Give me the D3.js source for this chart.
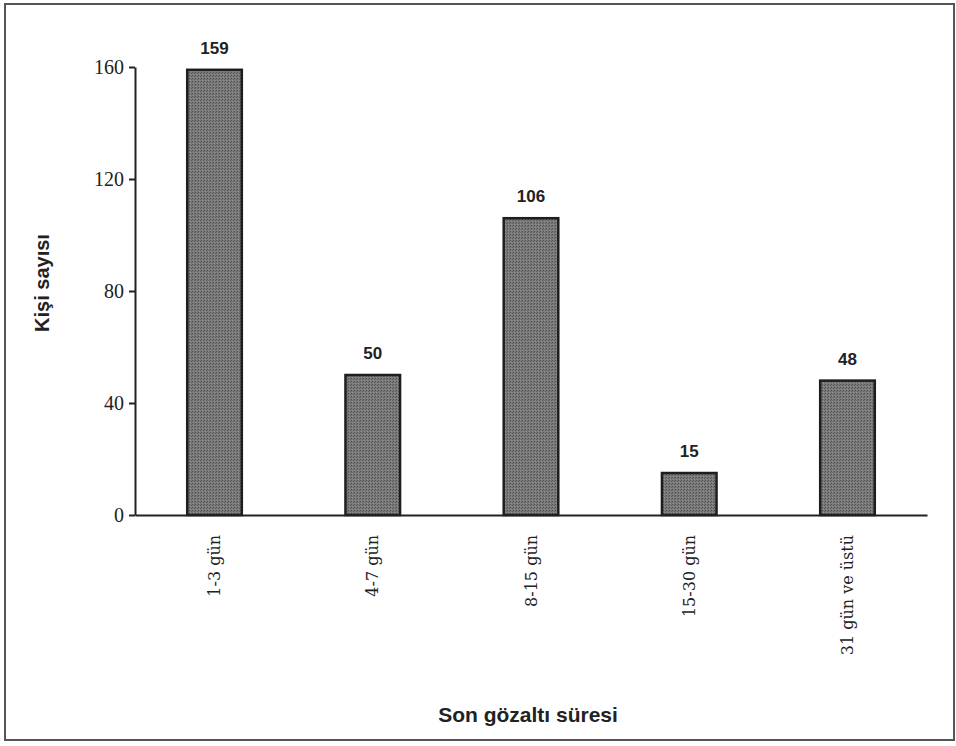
<!DOCTYPE html>
<html>
<head>
<meta charset="utf-8">
<script src="https://cdn.jsdelivr.net/npm/d3@7"></script>
<style>
  html, body { margin: 0; padding: 0; background: #fff; }
  svg { display: block; }
</style>
</head>
<body>
<svg id="chart" width="956" height="746"></svg>
<script>
// Detention duration categories and number of people in each
const categories = ["1-3 gün", "4-7 gün", "8-15 gün", "15-30 gün", "31 gün ve üstü"];
const counts = [159, 50, 106, 15, 48];
const yTicks = [0, 40, 80, 120, 160];
const yTitle = "Kişi sayısı";
const xTitle = "Son gözaltı süresi";

const svg = d3.select("#chart");
const plot = { left: 135, right: 927, top: 67, bottom: 515 };

// Outer frame
svg.append("rect")
  .attr("x", 5).attr("y", 4)
  .attr("width", 949).attr("height", 736)
  .attr("fill", "none")
  .attr("stroke", "#555")
  .attr("stroke-width", 2);

// Stippled texture for the bars
const defs = svg.append("defs");
const pat = defs.append("pattern")
  .attr("id", "stipple")
  .attr("width", 3).attr("height", 3)
  .attr("patternUnits", "userSpaceOnUse");
pat.append("rect").attr("width", 3).attr("height", 3).attr("fill", "#7a7a7a");
pat.append("rect").attr("x", 0).attr("y", 0).attr("width", 1).attr("height", 1).attr("fill", "#4e4e4e");
pat.append("rect").attr("x", 2).attr("y", 1).attr("width", 1).attr("height", 1).attr("fill", "#5e5e5e");
pat.append("rect").attr("x", 1).attr("y", 2).attr("width", 1).attr("height", 1).attr("fill", "#8e8e8e");

const x = d3.scaleBand()
  .domain(categories)
  .range([plot.left, plot.right])
  .paddingInner(0.655)
  .paddingOuter(0.33);

const y = d3.scaleLinear()
  .domain([0, 160])
  .range([plot.bottom, plot.top]);

// Y axis
const yAxis = svg.append("g")
  .attr("transform", `translate(${plot.left},0)`)
  .call(d3.axisLeft(y).tickValues(yTicks).tickSize(6).tickPadding(5).tickSizeOuter(0));
yAxis.select(".domain").attr("stroke", "#222").attr("stroke-width", 2);
yAxis.selectAll(".tick line").attr("stroke", "#222").attr("stroke-width", 2);
yAxis.selectAll(".tick text")
  .attr("font-family", "'Liberation Serif', 'Times New Roman', serif")
  .attr("font-size", 20)
  .attr("fill", "#222");

// Bars
svg.append("g").selectAll("rect")
  .data(categories)
  .join("rect")
  .attr("x", d => x(d))
  .attr("y", (d, i) => y(counts[i]))
  .attr("width", x.bandwidth())
  .attr("height", (d, i) => y(0) - y(counts[i]))
  .attr("fill", "url(#stipple)")
  .attr("stroke", "#1e1e1e")
  .attr("stroke-width", 2.5);

// Value labels
svg.append("g").selectAll("text")
  .data(categories)
  .join("text")
  .attr("x", d => x(d) + x.bandwidth() / 2)
  .attr("y", (d, i) => y(counts[i]) - 16)
  .attr("text-anchor", "middle")
  .attr("font-family", "'Liberation Sans', Arial, sans-serif")
  .attr("font-weight", "bold")
  .attr("font-size", 17)
  .attr("fill", "#222")
  .text((d, i) => counts[i]);

// X axis
const xAxis = svg.append("g")
  .attr("transform", `translate(0,${plot.bottom})`)
  .call(d3.axisBottom(x).tickSize(0).tickSizeOuter(0));
xAxis.select(".domain").attr("stroke", "#222").attr("stroke-width", 2);
xAxis.selectAll(".tick text")
  .attr("font-family", "'DejaVu Serif', serif")
  .attr("font-size", 16)
  .attr("fill", "#222")
  .attr("text-anchor", "end")
  .attr("transform", "rotate(-90)")
  .attr("x", -20)
  .attr("y", 0)
  .attr("dy", "0.35em");

// Axis titles
svg.append("text")
  .attr("transform", `translate(49,283) rotate(-90)`)
  .attr("text-anchor", "middle")
  .attr("font-family", "'Liberation Sans', Arial, sans-serif")
  .attr("font-weight", "bold")
  .attr("font-size", 20)
  .attr("fill", "#222")
  .text(yTitle);

svg.append("text")
  .attr("x", 528)
  .attr("y", 722)
  .attr("text-anchor", "middle")
  .attr("font-family", "'Liberation Sans', Arial, sans-serif")
  .attr("font-weight", "bold")
  .attr("font-size", 21)
  .attr("fill", "#222")
  .text(xTitle);
</script>
</body>
</html>
